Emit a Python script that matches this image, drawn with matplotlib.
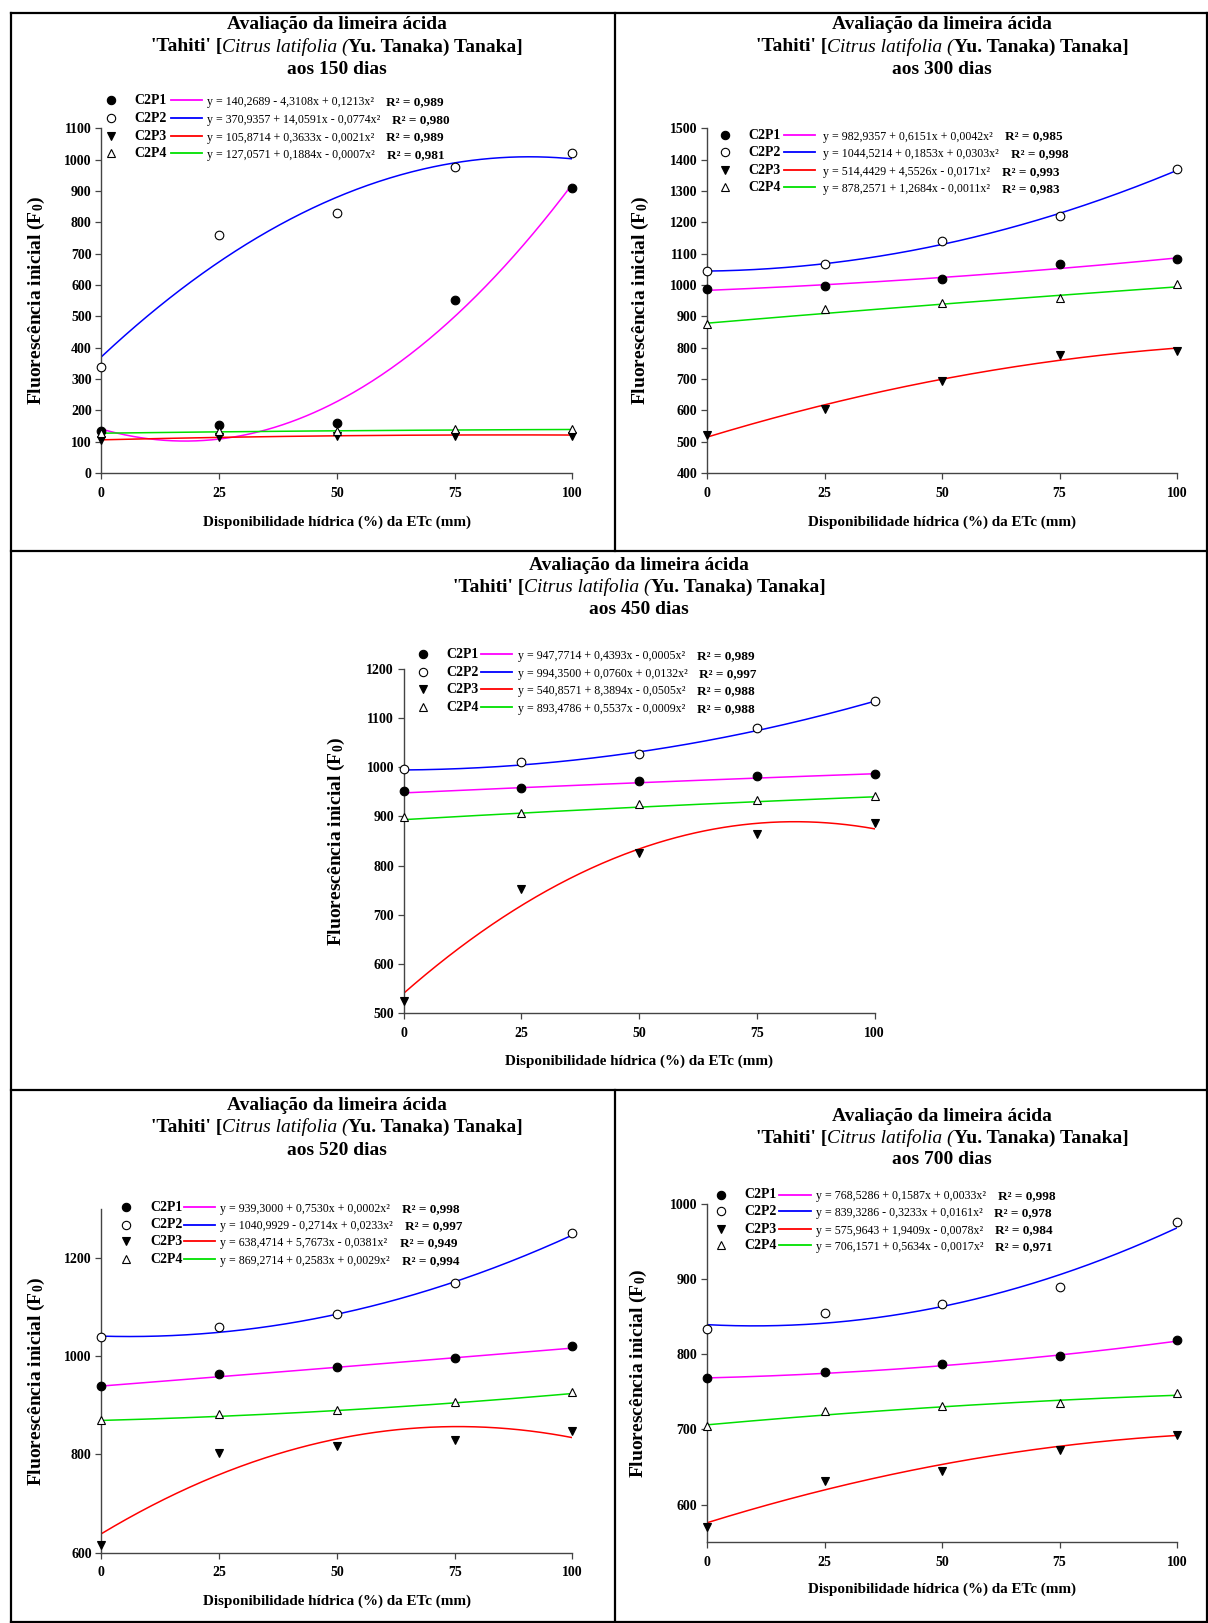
import numpy as np
import matplotlib
matplotlib.use('Agg')
import matplotlib.pyplot as plt
from matplotlib.lines import Line2D

plt.rcParams['font.family'] = ['Liberation Serif', 'DejaVu Serif']
plt.rcParams['font.weight'] = 'bold'
plt.rcParams['mathtext.fontset'] = 'custom'
plt.rcParams['mathtext.rm'] = 'Liberation Serif:bold'
plt.rcParams['mathtext.it'] = 'Liberation Serif:italic:bold'
plt.rcParams['mathtext.bf'] = 'Liberation Serif:bold'

# ---------------- data ----------------
x_levels = [0, 25, 50, 75, 100]
series_names = ['C2P1', 'C2P2', 'C2P3', 'C2P4']
days = [150, 300, 450, 520, 700]

d150_c2p1 = [133, 154, 159, 552, 911]
d150_c2p2 = [339, 761, 830, 976, 1021]
d150_c2p3 = [106, 114, 117, 119, 119]
d150_c2p4 = [128, 133, 135, 140, 141]

d300_c2p1 = [988, 998, 1019, 1066, 1083]
d300_c2p2 = [1045, 1068, 1140, 1221, 1371]
d300_c2p3 = [522, 604, 694, 777, 790]
d300_c2p4 = [877, 922, 944, 960, 1004]

d450_c2p1 = [951, 957, 972, 982, 987]
d450_c2p2 = [996, 1011, 1027, 1080, 1135]
d450_c2p3 = [526, 752, 825, 864, 886]
d450_c2p4 = [898, 906, 925, 934, 942]

d520_c2p1 = [939, 963, 978, 997, 1020]
d520_c2p2 = [1040, 1059, 1086, 1149, 1252]
d520_c2p3 = [616, 802, 818, 829, 848]
d520_c2p4 = [870, 882, 890, 907, 927]

d700_c2p1 = [768, 776, 787, 798, 819]
d700_c2p2 = [833, 855, 867, 890, 976]
d700_c2p3 = [570, 632, 645, 673, 693]
d700_c2p4 = [705, 725, 731, 735, 749]

# fitted quadratic coefficients (a, b, c) shown in the legends
coef150 = [[140.2689, -4.3108, 0.1213], [370.9357, 14.0591, -0.0774],
           [105.8714, 0.3633, -0.0021], [127.0571, 0.1884, -0.0007]]
coef300 = [[982.9357, 0.6151, 0.0042], [1044.5214, 0.1853, 0.0303],
           [514.4429, 4.5526, -0.0171], [878.2571, 1.2684, -0.0011]]
coef450 = [[947.7714, 0.4393, -0.0005], [994.3500, 0.0760, 0.0132],
           [540.8571, 8.3894, -0.0505], [893.4786, 0.5537, -0.0009]]
coef520 = [[939.3000, 0.7530, 0.0002], [1040.9929, -0.2714, 0.0233],
           [638.4714, 5.7673, -0.0381], [869.2714, 0.2583, 0.0029]]
coef700 = [[768.5286, 0.1587, 0.0033], [839.3286, -0.3233, 0.0161],
           [575.9643, 1.9409, -0.0078], [706.1571, 0.5634, -0.0017]]

r2_150 = ['0,989', '0,980', '0,989', '0,981']
r2_300 = ['0,985', '0,998', '0,993', '0,983']
r2_450 = ['0,989', '0,997', '0,988', '0,988']
r2_520 = ['0,998', '0,997', '0,949', '0,994']
r2_700 = ['0,998', '0,978', '0,984', '0,971']

# ---------------- styles / layout ----------------
W, H = 1208, 1623
colors = ['#ff00ff', '#0000ff', '#ff0000', '#00e000']
markers = ['o', 'o', 'v', '^']
mfcs = ['black', 'white', 'black', 'white']

fig = plt.figure(figsize=(W / 100, H / 100), dpi=100)
renderer = fig.canvas.get_renderer()


def rect(x0, y0, x1, y1):
    return [x0 / W, 1 - y1 / H, (x1 - x0) / W, (y1 - y0) / H]


def chain(pieces, x, y, ha='left'):
    texts = []
    for s, kw in pieces:
        t = fig.text(0, 0, s, va='baseline', ha='left', **kw)
        texts.append(t)
    widths = [t.get_window_extent(renderer).width for t in texts]
    total = sum(widths)
    cur = x - total / 2 if ha == 'center' else x
    for t, w in zip(texts, widths):
        t.set_position((cur / W, 1 - y / H))
        cur += w
    return texts


def fmt(v, first=False):
    s = f"{abs(v):.4f}".replace('.', ',')
    if first:
        return s
    return ('+ ' if v >= 0 else '- ') + s


def eq_text(c):
    return f"y = {fmt(c[0], True)} {fmt(c[1])}x {fmt(c[2])}x\u00b2"


panels = [
    dict(rect=rect(101.4, 128.4, 572.4, 473), ylim=(0, 1100), yt=np.arange(0, 1101, 100),
         data=[d150_c2p1, d150_c2p2, d150_c2p3, d150_c2p4], coef=coef150, r2=r2_150,
         title_y=[23, 45.5, 68], leg=dict(mx=110.8, lx=134.6, l0=170.8, l1=201.8, ex=207,
                                          rows=[100.4, 118, 135.6, 153.2]),
         ylab=(36, 300.7), xlab=(337, 522)),
    dict(rect=rect(707, 128.4, 1177, 473), ylim=(400, 1500), yt=np.arange(400, 1501, 100),
         data=[d300_c2p1, d300_c2p2, d300_c2p3, d300_c2p4], coef=coef300, r2=r2_300,
         title_y=[23, 45.5, 68], leg=dict(mx=724.6, lx=748.4, l0=783.6, l1=814.6, ex=823,
                                          rows=[134.6, 152.2, 169.8, 187.4]),
         ylab=(640.7, 300.7), xlab=(942, 522)),
    dict(rect=rect(403.7, 668.7, 874.7, 1013.4), ylim=(500, 1200), yt=np.arange(500, 1201, 100),
         data=[d450_c2p1, d450_c2p2, d450_c2p3, d450_c2p4], coef=coef450, r2=r2_450,
         title_y=[564, 586, 608], leg=dict(mx=423.4, lx=446, l0=481, l1=512, ex=517.6,
                                           rows=[654.2, 671.8, 689.4, 707]),
         ylab=(336.4, 841), xlab=(639, 1061)),
    dict(rect=rect(101.4, 1209, 572.4, 1552.6), ylim=(600, 1300), yt=np.arange(600, 1201, 200),
         data=[d520_c2p1, d520_c2p2, d520_c2p3, d520_c2p4], coef=coef520, r2=r2_520,
         title_y=[1104.5, 1126, 1149], leg=dict(mx=126.3, lx=150, l0=184.2, l1=215.3, ex=220.5,
                                                rows=[1207, 1224.5, 1241, 1259]),
         ylab=(36, 1381), xlab=(337, 1601)),
    dict(rect=rect(707, 1203.8, 1177, 1542.3), ylim=(550, 1000), yt=np.arange(600, 1001, 100),
         data=[d700_c2p1, d700_c2p2, d700_c2p3, d700_c2p4], coef=coef700, r2=r2_700,
         title_y=[1115, 1136.5, 1158], leg=dict(mx=721.4, lx=744.2, l0=779.4, l1=810.5, ex=815.7,
                                                rows=[1194.5, 1211, 1228.6, 1245.2]),
         ylab=(638.6, 1373), xlab=(942, 1589)),
]

xx = np.linspace(0, 100, 300)
for p, day in zip(panels, days):
    ax = fig.add_axes(p['rect'])
    for k in range(4):
        a, b, c = p['coef'][k]
        ax.plot(xx, a + b * xx + c * xx ** 2, color=colors[k], lw=1.1, zorder=2)
    for k in range(4):
        ax.plot(x_levels, p['data'][k], ls='none', marker=markers[k], ms=6.2,
                mfc=mfcs[k], mec='black', mew=0.8, zorder=3, clip_on=False)
    ax.set_xlim(0, 100)
    ax.set_ylim(*p['ylim'])
    ax.set_xticks(x_levels)
    ax.set_yticks(p['yt'])
    for s in ['top', 'right']:
        ax.spines[s].set_visible(False)
    for s in ['left', 'bottom']:
        ax.spines[s].set_color('#444444')
        ax.spines[s].set_linewidth(1.0)
    ax.tick_params(axis='both', direction='out', length=4, width=0.9, color='#444444',
                   labelsize=10)
    ax.tick_params(axis='x', pad=6)
    ax.tick_params(axis='y', pad=3)
    for lbl in ax.get_xticklabels() + ax.get_yticklabels():
        lbl.set_fontweight('bold')
    ax.patch.set_alpha(0)

    # title
    cx = (p['rect'][0] + p['rect'][2] / 2) * W
    ty = p['title_y']
    tfs = 14
    chain([("Avaliação da limeira ácida", dict(fontsize=tfs, fontweight='bold'))], cx, ty[0] + 6, 'center')
    chain([("'Tahiti' [", dict(fontsize=tfs, fontweight='bold')),
           ("Citrus latifolia (", dict(fontsize=tfs, fontweight='normal', fontstyle='italic')),
           ("Yu. Tanaka) Tanaka]", dict(fontsize=tfs, fontweight='bold'))], cx, ty[1] + 6, 'center')
    chain([(f"aos {day} dias", dict(fontsize=tfs, fontweight='bold'))], cx, ty[2] + 6, 'center')

    # axis labels
    fig.text(p['ylab'][0] / W, 1 - p['ylab'][1] / H, "Fluorescência inicial (F$_0$)",
             rotation=90, ha='center', va='center', fontsize=14, fontweight='bold')
    fig.text(p['xlab'][0] / W, 1 - p['xlab'][1] / H, "Disponibilidade hídrica (%) da ETc (mm)",
             ha='center', va='center', fontsize=10.9, fontweight='bold')

    # legend
    L = p['leg']
    for k in range(4):
        ry = L['rows'][k]
        fig.add_artist(Line2D([L['mx'] / W], [1 - ry / H], marker=markers[k], ms=6,
                              mfc=mfcs[k], mec='black', mew=0.8, ls='none',
                              transform=fig.transFigure))
        fig.text(L['lx'] / W, 1 - (ry + 4) / H, series_names[k], ha='left', va='baseline',
                 fontsize=10, fontweight='bold')
        fig.add_artist(Line2D([L['l0'] / W, L['l1'] / W], [1 - ry / H, 1 - ry / H],
                              color=colors[k], lw=1.3, transform=fig.transFigure))
        chain([(eq_text(p['coef'][k]), dict(fontsize=8.6, fontweight='normal')),
               ("    ", dict(fontsize=8.6, fontweight='normal')),
               (f"R\u00b2 = {p['r2'][k]}", dict(fontsize=9.5, fontweight='bold'))],
              L['ex'], ry + 5)

# frame and dividers
lw = 1.6


def fl(x0, y0, x1, y1):
    fig.add_artist(Line2D([x0 / W, x1 / W], [1 - y0 / H, 1 - y1 / H], color='black', lw=lw,
                          transform=fig.transFigure))


fl(10.5, 13, 1206.5, 13)
fl(10.5, 1622, 1206.5, 1622)
fl(10.5, 13, 10.5, 1622)
fl(1206.5, 13, 1206.5, 1622)
fl(10.5, 551, 1206.5, 551)
fl(10.5, 1090, 1206.5, 1090)
fl(615, 13, 615, 551)
fl(615, 1090, 615, 1622)

fig.savefig('out.png', dpi=100)
